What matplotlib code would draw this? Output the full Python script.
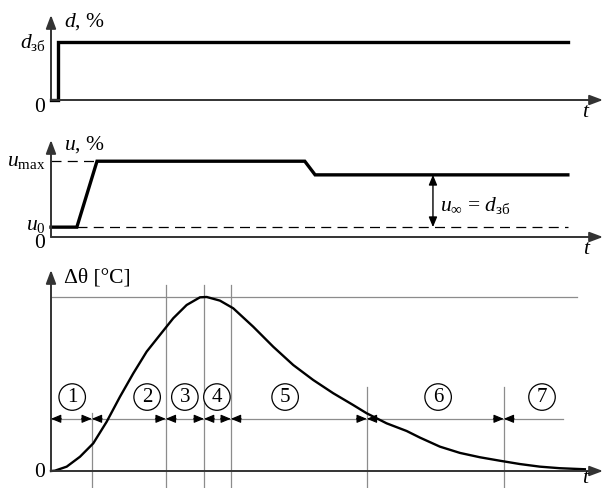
import matplotlib.pyplot as plt
import matplotlib as mpl

mpl.rcParams.update({
    "font.family": "Liberation Serif",
    "mathtext.fontset": "custom",
    "mathtext.rm": "Liberation Serif",
    "mathtext.it": "Liberation Serif:italic",
    "mathtext.bf": "Liberation Serif:bold",
})

# disturbance d(t)
d_t = [0, 0.14, 0.14, 10.0]
d_val = [0, 0, 1.0, 1.0]

# control u(t)
u_t = [0, 0.50, 0.89, 4.91, 5.11, 10.0]
u_val = [0.13, 0.13, 1.0, 1.0, 0.82, 0.82]
u_max, u_0, u_inf = 1.0, 0.13, 0.82

# temperature deviation
th_t = [0, 0.077, 0.304, 0.561, 0.818, 1.077, 1.335, 1.592, 1.851, 2.108,
        2.366, 2.625, 2.882, 3.012, 3.269, 3.526, 3.913, 4.300, 4.687,
        5.073, 5.460, 5.847, 6.106, 6.493, 6.880, 7.137, 7.524, 7.911,
        8.298, 8.685, 9.072, 9.458, 9.845, 10.329]
th_val = [0, 0.002, 0.025, 0.082, 0.159, 0.283, 0.427, 0.561, 0.686, 0.782,
          0.878, 0.954, 0.998, 1.0, 0.979, 0.935, 0.829, 0.714, 0.609,
          0.523, 0.447, 0.379, 0.332, 0.274, 0.230, 0.192, 0.140, 0.104,
          0.079, 0.059, 0.040, 0.025, 0.016, 0.010]

bounds = [0, 0.79, 2.22, 2.96, 3.48, 6.11, 8.76]
num_x = [0.41, 1.86, 2.59, 3.21, 4.53, 7.49, 9.50]
num_lbl = ["1", "2", "3", "4", "5", "6", "7"]

XMAX = 10.68
AX_COL = "#333333"
GRAY = "#8c8c8c"
FS = 15.5

fig = plt.figure(figsize=(6.05, 4.88), dpi=100)
left, width = 51 / 605, 552 / 605
ax1 = fig.add_axes([left, 388 / 488, width, 85 / 488])
ax2 = fig.add_axes([left, 251 / 488, width, 97 / 488])
ax3 = fig.add_axes([left, 17 / 488, width, 201 / 488])


def axes_arrows(ax, ytop):
    ax.set_xlim(0, XMAX)
    ax.set_ylim(0, ytop)
    ax.axis("off")
    ap = dict(arrowstyle="-|>,head_length=0.8,head_width=0.3", color=AX_COL,
              lw=1.4, shrinkA=0, shrinkB=0)
    ax.annotate("", xy=(XMAX, 0), xytext=(0, 0), arrowprops=ap,
                annotation_clip=False)
    ax.annotate("", xy=(0, ytop), xytext=(0, 0), arrowprops=ap,
                annotation_clip=False)


# top panel
axes_arrows(ax1, 1.466)
ax1.plot(d_t, d_val, color="black", lw=2.4, solid_joinstyle="miter",
         clip_on=False)
ax1.text(0.25, 1.36, "$d$, %", fontsize=FS, va="center")
ax1.text(-0.1, 1.0, r"$d_{\mathrm{зб}}$", fontsize=FS, ha="right", va="center")
ax1.text(-0.22, -0.13, "0", fontsize=FS, ha="center", va="center")
ax1.text(10.35, -0.22, "$t$", fontsize=FS, ha="center", va="center")

# middle panel
axes_arrows(ax2, 1.28)
ax2.plot([0, 0.89], [u_max, u_max], color="black", lw=0.9, ls=(0, (8, 5)),
         clip_on=False)
ax2.plot([0.5, 10.0], [u_0, u_0], color="black", lw=0.9, ls=(0, (8, 5)),
         clip_on=False)
ax2.plot(u_t, u_val, color="black", lw=2.4, solid_joinstyle="miter",
         clip_on=False)
ax2.annotate("", xy=(7.39, u_0), xytext=(7.39, u_inf),
             arrowprops=dict(arrowstyle="<|-|>,head_length=0.6,head_width=0.25",
                             color="black", lw=1.0, shrinkA=0, shrinkB=0))
ax2.text(7.52, 0.42, r"$u_{\infty}$ = $d_{\mathrm{зб}}$", fontsize=FS,
         va="center")
ax2.text(-0.1, u_max, r"$u_{\mathrm{max}}$", fontsize=FS, ha="right", va="center")
ax2.text(-0.1, u_0 + 0.02, r"$u_0$", fontsize=FS, ha="right", va="center")
ax2.text(-0.22, -0.08, "0", fontsize=FS, ha="center", va="center")
ax2.text(10.37, -0.16, "$t$", fontsize=FS, ha="center", va="center")
ax2.text(0.25, 1.22, "$u$, %", fontsize=FS, va="center")

# bottom panel
axes_arrows(ax3, 1.155)
ax3.plot([0, 10.17], [1.0, 1.0], color=GRAY, lw=0.9, clip_on=False)
seg_y = 0.300
ax3.plot([0, 9.90], [seg_y, seg_y], color=GRAY, lw=0.9, clip_on=False)
v_top = [0.333, 1.07, 1.07, 1.07, 0.483, 0.483]
for b, top in zip(bounds[1:], v_top):
    ax3.plot([b, b], [-0.092, top], color=GRAY, lw=0.9, clip_on=False)

hp = dict(arrowstyle="-|>,head_length=0.6,head_width=0.25", color="black",
          lw=0.8, shrinkA=0, shrinkB=0)
ax3.annotate("", xy=(0, seg_y), xytext=(0.2, seg_y), arrowprops=hp)
for b in bounds[1:]:
    ax3.annotate("", xy=(b, seg_y), xytext=(b + 0.2, seg_y), arrowprops=hp)
    ax3.annotate("", xy=(b, seg_y), xytext=(b - 0.2, seg_y), arrowprops=hp)

for x, s in zip(num_x, num_lbl):
    ax3.text(x, 0.425, s, fontsize=15, ha="center", va="center",
             bbox=dict(boxstyle="circle,pad=0.18", fc="white", ec="black",
                       lw=0.9))

ax3.plot(th_t, th_val, color="black", lw=1.7, clip_on=False)
ax3.text(0.25, 1.11, "Δθ [°C]", fontsize=FS, va="center")
ax3.text(-0.22, -0.01, "0", fontsize=FS, ha="center", va="center")
ax3.text(10.35, -0.045, "$t$", fontsize=FS, ha="center", va="center")

fig.savefig("out.png", dpi=100)
